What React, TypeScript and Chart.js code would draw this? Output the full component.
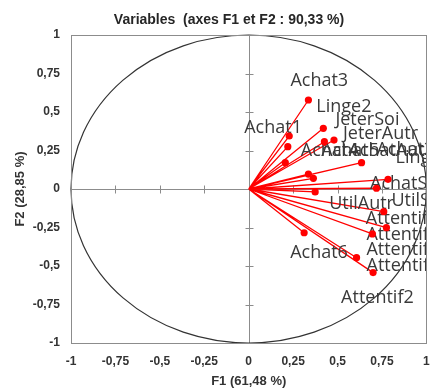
import { useEffect, useRef } from "react";
import { Chart, registerables } from "chart.js";

Chart.register(...registerables);

// Variables (labels) and their coordinates on F1 / F2
const variables = [
  "Achat3", "Linge2", "Achat1", "JeterSoi", "JeterAutr", "Achat4", "Achat5",
  "Linge1", "AchatAutr", "Achat2", "AchatSoi", "UtilSoi", "UtilAutr",
  "Attentif1", "Attentif3", "Attentif4", "Achat6", "Attentif5", "Attentif2",
];
const f1 = [
  0.336, 0.42, 0.228, 0.426, 0.48, 0.22, 0.206, 0.635, 0.336, 0.364, 0.784,
  0.719, 0.374, 0.76, 0.775, 0.696, 0.312, 0.607, 0.7,
];
const f2 = [
  0.578, 0.394, 0.344, 0.307, 0.318, 0.275, 0.171, 0.171, 0.097, 0.069, 0.063,
  0.005, -0.019, -0.147, -0.251, -0.292, -0.284, -0.446, -0.543,
];
const tickValues = [-1, -0.75, -0.5, -0.25, 0, 0.25, 0.5, 0.75, 1];

// label placement (pixel offsets from the point, styling only)
const labelOffsets: [number, number][] = [
  [-18, -19], [-7, -21], [-45, -8], [11, -22], [9, -6], [13, 4], [36, -12],
  [34, -5], [40, -23], [63, -28], [-18, 5], [15, 13], [14, 12], [-18, 7],
  [-20, 7], [-6, 16], [-14, 20], [10, 8], [-32, 25],
];

const TITLE = "Variables  (axes F1 et F2 : 90,33 %)";
const X_TITLE = "F1 (61,48 %)";
const Y_TITLE = "F2 (28,85 %)";

const fmt = (v: number | string) => String(v).replace(".", ",");

const decor = {
  id: "decor",
  beforeDatasetsDraw(chart: any) {
    const { ctx, chartArea: a, scales } = chart;
    const x = scales.x;
    const y = scales.y;
    const x0 = Math.round(x.getPixelForValue(0)) + 0.5;
    const y0 = Math.round(y.getPixelForValue(0)) + 0.5;
    ctx.save();
    // zero axes with cross ticks
    ctx.strokeStyle = "#8c8c8c";
    ctx.lineWidth = 1;
    ctx.beginPath();
    ctx.moveTo(a.left, y0);
    ctx.lineTo(a.right, y0);
    ctx.moveTo(x0, a.top);
    ctx.lineTo(x0, a.bottom);
    tickValues.forEach((v) => {
      const px = Math.round(x.getPixelForValue(v)) + 0.5;
      ctx.moveTo(px, y0 - 4);
      ctx.lineTo(px, y0 + 4);
      const py = Math.round(y.getPixelForValue(v)) + 0.5;
      ctx.moveTo(x0 - 4, py);
      ctx.lineTo(x0 + 4, py);
    });
    ctx.stroke();
    // correlation circle
    const cx = x.getPixelForValue(0);
    const cy = y.getPixelForValue(0);
    ctx.strokeStyle = "#333333";
    ctx.lineWidth = 1.2;
    ctx.beginPath();
    ctx.ellipse(
      cx,
      cy,
      x.getPixelForValue(1) - cx,
      cy - y.getPixelForValue(1),
      0,
      0,
      Math.PI * 2
    );
    ctx.stroke();
    // vectors
    const meta = chart.getDatasetMeta(0);
    ctx.strokeStyle = "#ff0000";
    ctx.lineWidth = 1.3;
    ctx.beginPath();
    meta.data.forEach((p: any) => {
      ctx.moveTo(cx, cy);
      ctx.lineTo(p.x, p.y);
    });
    ctx.stroke();
    // labels, clipped to the plot area
    ctx.beginPath();
    ctx.rect(a.left, a.top, a.right - a.left, a.bottom - a.top);
    ctx.clip();
    ctx.font = '18px "Open Sans"';
    ctx.fillStyle = "#3a3a3a";
    ctx.textAlign = "left";
    ctx.textBaseline = "middle";
    meta.data.forEach((p: any, i: number) => {
      const [dx, dy] = labelOffsets[i];
      ctx.fillText(variables[i], p.x + dx, p.y + dy);
    });
    ctx.restore();
  },
  afterDraw(chart: any) {
    const { ctx, chartArea: a } = chart;
    ctx.save();
    ctx.strokeStyle = "#8c8c8c";
    ctx.lineWidth = 1;
    ctx.strokeRect(
      Math.round(a.left) + 0.5,
      Math.round(a.top) + 0.5,
      Math.round(a.right - a.left),
      Math.round(a.bottom - a.top)
    );
    ctx.font = 'bold 14px "Liberation Sans"';
    ctx.fillStyle = "#262626";
    ctx.textAlign = "center";
    ctx.textBaseline = "middle";
    ctx.fillText(TITLE, 229, 20);
    ctx.restore();
  },
};

const tickFont = { family: '"Liberation Sans"', size: 12, weight: "bold" as const };
const titleFont = { family: '"Liberation Sans"', size: 13, weight: "bold" as const };

export default function App() {
  const ref = useRef<HTMLCanvasElement | null>(null);
  useEffect(() => {
    document.body.style.margin = "0";
    if (!ref.current) return;
    const chart = new Chart(ref.current, {
      type: "scatter",
      data: {
        datasets: [
          {
            data: f1.map((v, i) => ({ x: v, y: f2[i] })),
            backgroundColor: "#ff0000",
            borderColor: "#ff0000",
            pointRadius: 3.6,
            pointHoverRadius: 3.6,
            borderWidth: 0,
          },
        ],
      },
      options: {
        responsive: false,
        animation: false,
        devicePixelRatio: 1,
        events: [],
        layout: { padding: { top: 35, right: 2, left: 0, bottom: 0 } },
        plugins: { legend: { display: false }, tooltip: { enabled: false } },
        scales: {
          x: {
            type: "linear",
            min: -1,
            max: 1,
            afterBuildTicks: (s: any) => {
              s.ticks = tickValues.map((v) => ({ value: v }));
            },
            ticks: {
              autoSkip: false,
              maxRotation: 0,
              padding: 11,
              color: "#333333",
              font: tickFont,
              callback: (v: any) => fmt(v),
            },
            grid: { display: false, drawTicks: false },
            border: { display: false },
            title: {
              display: true,
              text: X_TITLE,
              color: "#333333",
              font: titleFont,
              padding: { top: 0, bottom: 1 },
            },
            afterFit: (s: any) => {
              s.height = 47;
              s.paddingLeft = 0;
              s.paddingRight = 0;
            },
          },
          y: {
            type: "linear",
            min: -1,
            max: 1,
            afterBuildTicks: (s: any) => {
              s.ticks = tickValues.map((v) => ({ value: v }));
            },
            ticks: {
              autoSkip: false,
              padding: 11,
              color: "#333333",
              font: tickFont,
              callback: (v: any) => fmt(v),
            },
            grid: { display: false, drawTicks: false },
            border: { display: false },
            title: {
              display: true,
              text: Y_TITLE,
              color: "#333333",
              font: titleFont,
              padding: { top: 13, bottom: 0 },
            },
            afterFit: (s: any) => {
              s.width = 71;
              s.paddingTop = 0;
              s.paddingBottom = 0;
            },
          },
        },
      },
      plugins: [decor],
    });
    return () => chart.destroy();
  }, []);
  return (
    <canvas
      ref={ref}
      width={430}
      height={390}
      style={{ position: "absolute", left: 0, top: 0, display: "block" }}
    />
  );
}
